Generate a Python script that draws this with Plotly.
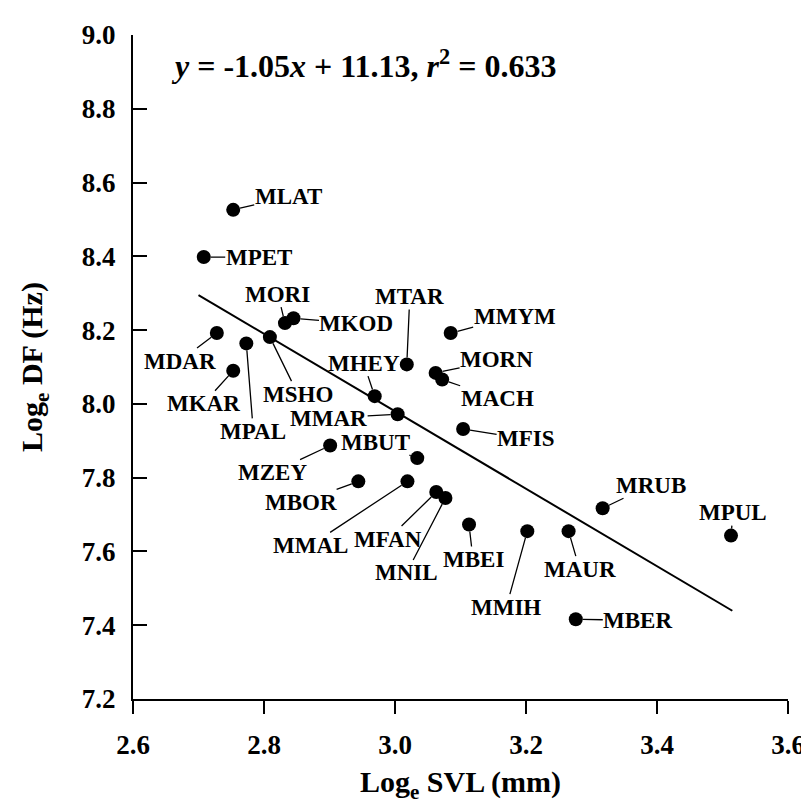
import plotly.graph_objects as go

# ---- data ----
names = ["MLAT", "MPET", "MDAR", "MKAR", "MPAL", "MSHO", "MORI", "MKOD",
         "MTAR", "MMYM", "MORN", "MACH", "MHEY", "MMAR", "MFIS", "MZEY",
         "MBUT", "MBOR", "MMAL", "MFAN", "MNIL", "MBEI", "MMIH", "MAUR",
         "MRUB", "MPUL", "MBER"]
log_svl = [2.753, 2.708, 2.728, 2.753, 2.773, 2.809, 2.832, 2.845,
           3.018, 3.085, 3.062, 3.072, 2.969, 3.004, 3.104, 2.901,
           3.034, 2.944, 3.019, 3.063, 3.077, 3.113, 3.202, 3.265,
           3.317, 3.513, 3.276]
log_df = [8.526, 8.398, 8.192, 8.090, 8.164, 8.181, 8.219, 8.232,
          8.107, 8.192, 8.084, 8.066, 8.021, 7.972, 7.932, 7.887,
          7.853, 7.790, 7.790, 7.761, 7.745, 7.673, 7.655, 7.655,
          7.717, 7.643, 7.416]

slope = -1.05
intercept = 11.13
r2 = 0.633
fit_x = [2.700, 3.515]
fit_y = [slope * v + intercept for v in fit_x]

x_ticks = [2.6, 2.8, 3.0, 3.2, 3.4, 3.6]
y_ticks = [7.2, 7.4, 7.6, 7.8, 8.0, 8.2, 8.4, 8.6, 8.8, 9.0]

# label offsets in pixels (text centre relative to point)
label_offsets = {
    "MLAT": (55, -13), "MPET": (55, 0), "MDAR": (-37, 28), "MKAR": (-30, 33),
    "MPAL": (7, 88), "MSHO": (28, 57), "MORI": (-7, -29), "MKOD": (63, 5),
    "MTAR": (3, -68), "MMYM": (64, -17), "MORN": (61, -13), "MACH": (55, 19),
    "MHEY": (-11, -33), "MMAR": (-69, 4), "MFIS": (63, 10), "MZEY": (-58, 27),
    "MBUT": (-42, -16), "MBOR": (-57, 21), "MMAL": (-97, 64), "MFAN": (-48, 47),
    "MNIL": (-39, 75), "MBEI": (4, 35), "MMIH": (-21, 76), "MAUR": (11, 38),
    "MRUB": (48, -23), "MPUL": (2, -23), "MBER": (62, 1),
}

FONT = "Liberation Serif, Times New Roman, serif"

fig = go.Figure()
fig.add_trace(go.Scatter(x=fit_x, y=fit_y, mode="lines",
                         line=dict(color="black", width=2), hoverinfo="skip"))
fig.add_trace(go.Scatter(x=log_svl, y=log_df, mode="markers",
                         marker=dict(color="black", size=14),
                         text=names, hoverinfo="text+x+y"))

annotations = []
for n, xv, yv in zip(names, log_svl, log_df):
    ax, ay = label_offsets[n]
    annotations.append(dict(
        x=xv, y=yv, xref="x", yref="y", text=n,
        showarrow=True, arrowhead=0, arrowwidth=1.3, arrowcolor="black",
        ax=ax, ay=ay, axref="pixel", ayref="pixel", standoff=7,
        borderpad=0,
        font=dict(family=FONT, size=23, color="black", weight="bold"),
    ))

annotations.append(dict(
    x=0.055, y=0.957, xref="paper", yref="paper", xanchor="left", yanchor="middle",
    showarrow=False,
    text=f"<i>y</i> = {slope:.2f}<i>x</i> + {intercept:.2f}, <i>r</i><sup>2</sup> = {r2:.3f}",
    font=dict(family=FONT, size=32, color="black", weight="bold"),
))

fig.update_layout(
    width=809, height=807,
    margin=dict(l=125, r=18, t=23, b=116),
    paper_bgcolor="white", plot_bgcolor="white",
    showlegend=False,
    font=dict(family=FONT, color="black", size=27, weight="bold"),
    annotations=annotations,
    xaxis=dict(
        range=[2.6, 3.6], tickvals=x_ticks, ticktext=[f"{v:.1f}" for v in x_ticks],
        showgrid=False, zeroline=False, showline=True, linecolor="black", linewidth=2,
        ticks="outside", ticklen=13, tickwidth=2, tickcolor="black",
        ticklabelstandoff=8,
        tickfont=dict(family=FONT, size=27, color="black", weight="bold"),
        title=dict(text="Log<sub>e</sub> SVL (mm)", standoff=12,
                   font=dict(family=FONT, size=30, color="black", weight="bold")),
    ),
    yaxis=dict(
        range=[7.2, 9.0], tickvals=y_ticks, ticktext=[f"{v:.1f}" for v in y_ticks],
        showgrid=False, zeroline=False, showline=True, linecolor="black", linewidth=2,
        ticks="inside", ticklen=14, tickwidth=2, tickcolor="black",
        ticklabelstandoff=10,
        tickfont=dict(family=FONT, size=27, color="black", weight="bold"),
        title=dict(text="Log<sub>e</sub> DF (Hz)", standoff=30,
                   font=dict(family=FONT, size=30, color="black", weight="bold")),
    ),
)

fig.write_html("out.html")
